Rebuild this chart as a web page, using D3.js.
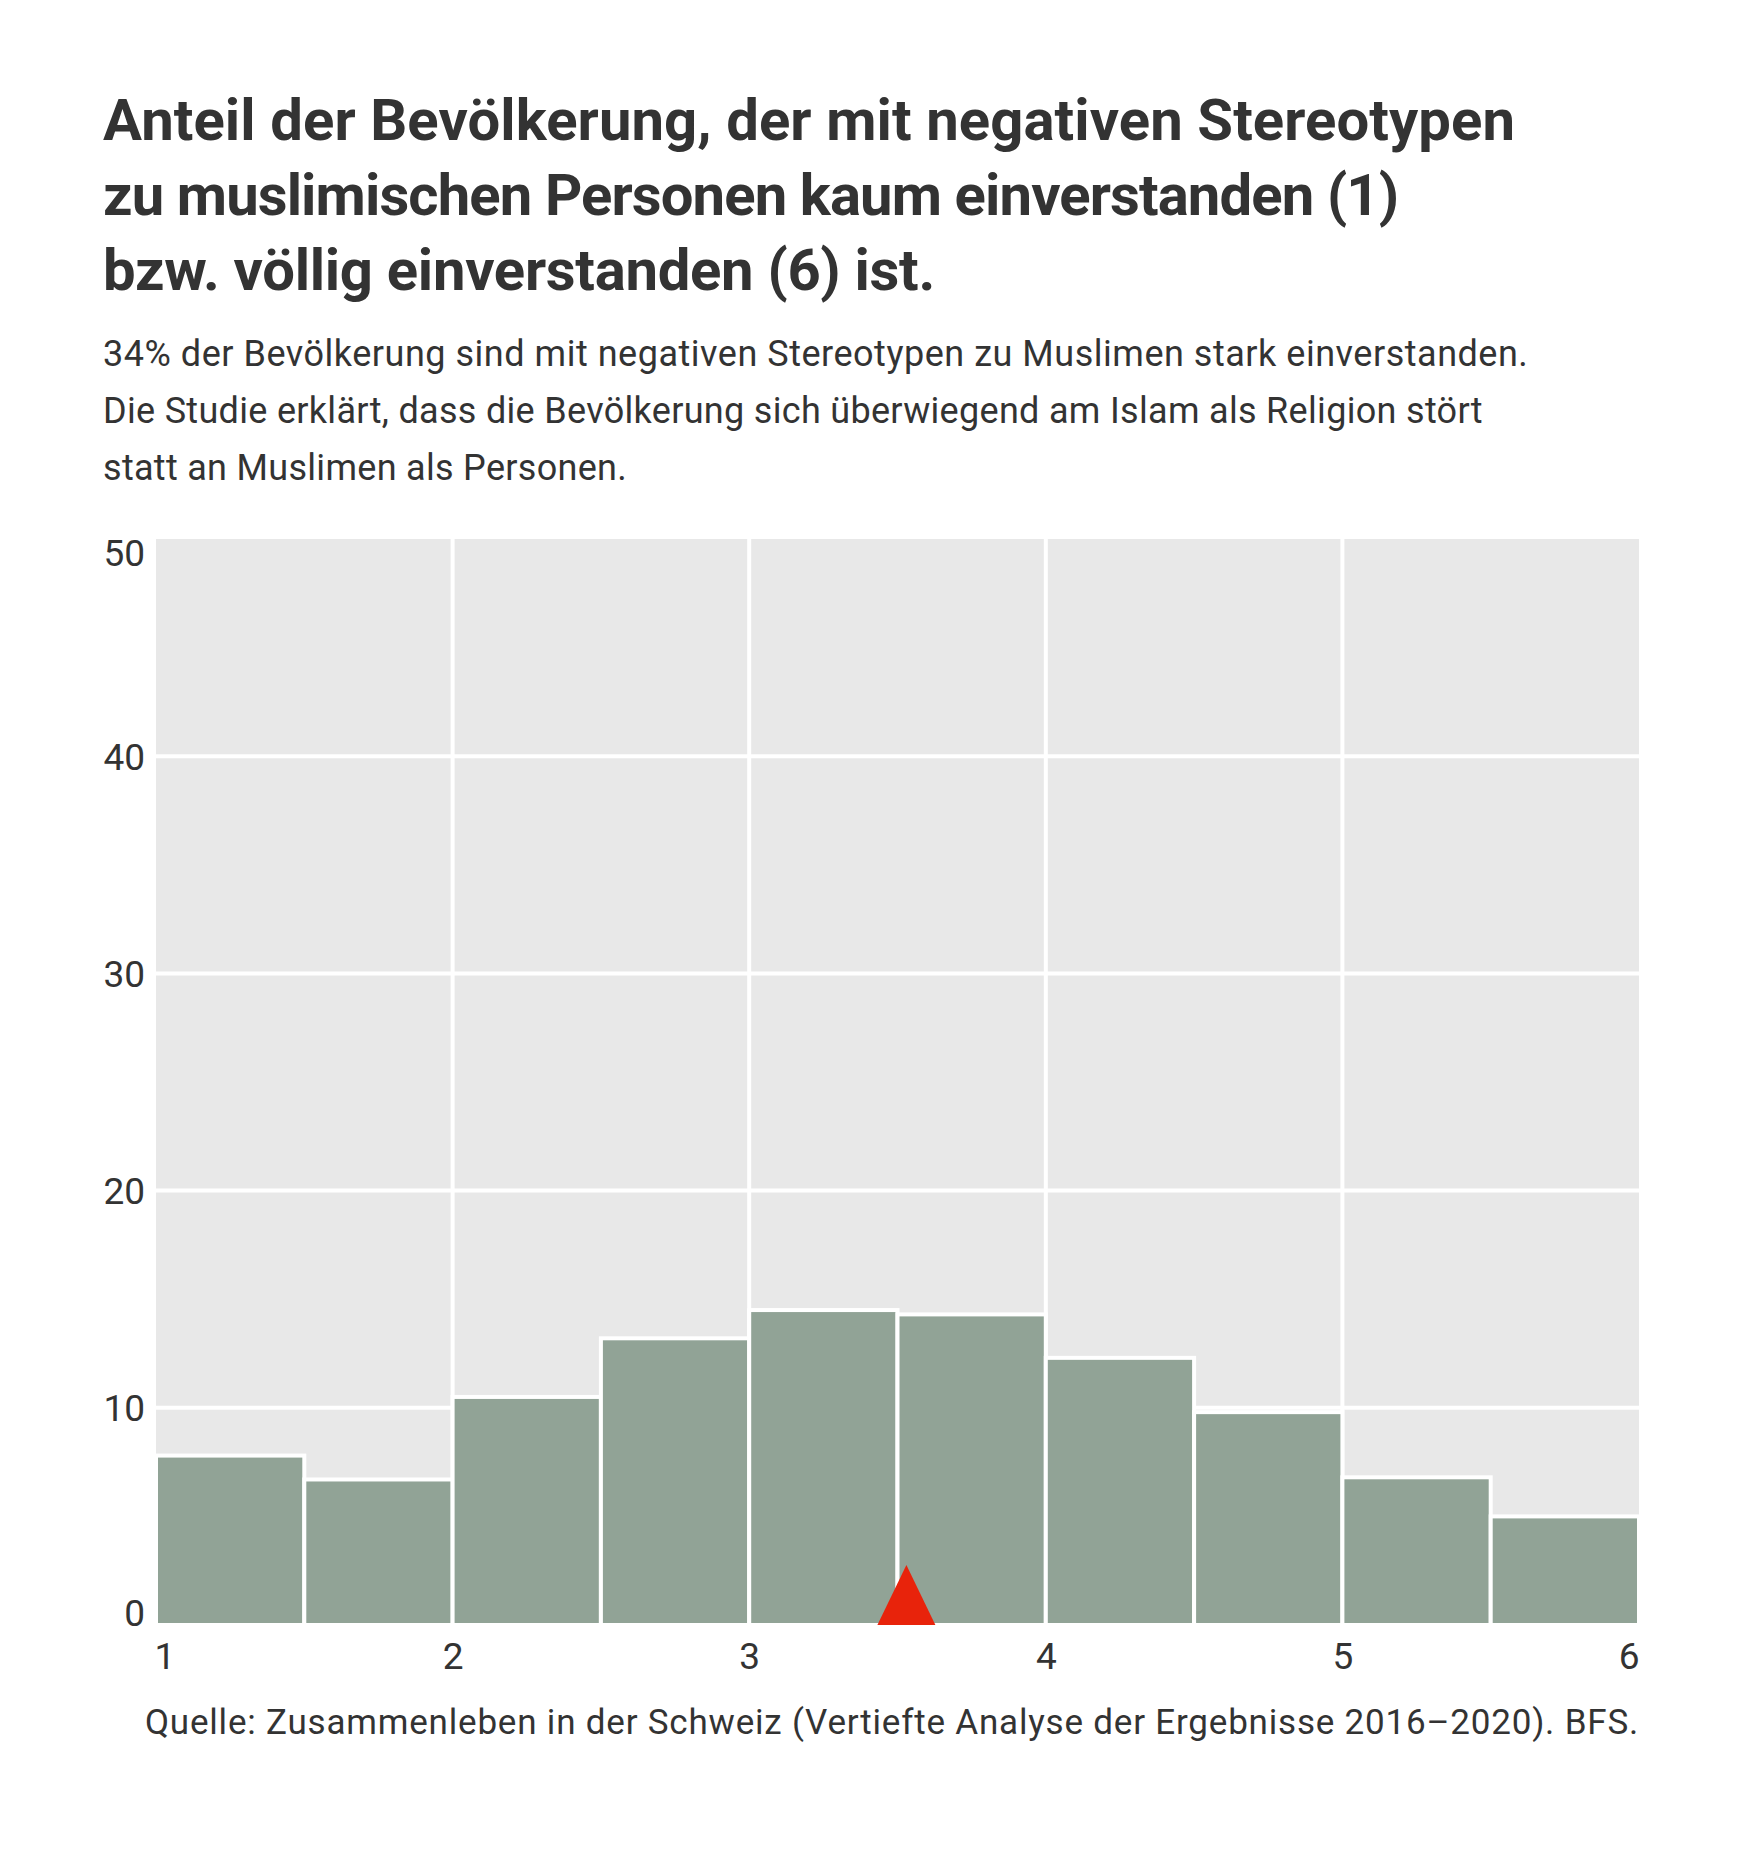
<!DOCTYPE html>
<html>
<head>
<meta charset="utf-8">
<script src="https://cdn.jsdelivr.net/npm/d3@7"></script>
<style>
  body { margin: 0; background: #fff; }
  text { font-family: Roboto, "Liberation Sans", sans-serif; fill: #333; }
</style>
</head>
<body>
<div id="chart"></div>
<script>
// Werte (Anteil in %, Klassenbreite 0.5)
var binStarts = [1, 1.5, 2, 2.5, 3, 3.5, 4, 4.5, 5, 5.5];
var binWidth = 0.5;
var shares = [7.8, 6.7, 10.5, 13.2, 14.5, 14.3, 12.3, 9.8, 6.8, 5.0];
var meanValue = 3.53;
var xTicks = [1, 2, 3, 4, 5, 6];
var yTicks = [0, 10, 20, 30, 40, 50];

var titleLines = [
  "Anteil der Bevölkerung, der mit negativen Stereotypen",
  "zu muslimischen Personen kaum einverstanden (1)",
  "bzw. völlig einverstanden (6) ist."
];
var subtitleLines = [
  "34% der Bevölkerung sind mit negativen Stereotypen zu Muslimen stark einverstanden.",
  "Die Studie erklärt, dass die Bevölkerung sich überwiegend am Islam als Religion stört",
  "statt an Muslimen als Personen."
];
var sourceText = "Quelle: Zusammenleben in der Schweiz (Vertiefte Analyse der Ergebnisse 2016–2020). BFS.";

var width = 1753,
    height = 1867,
    plotLeft = 156,
    plotRight = 1639,
    plotTop = 539,
    plotBottom = 1625;

var svg = d3.select("#chart")
            .append("svg")
              .attr("width", width)
              .attr("height", height);

// passt die Laufweite an die Zeilenbreite der Vorlage an
function fit(sel, target) {
    sel.each(function () {
        var n = this.getNumberOfChars(),
            len = this.getComputedTextLength();
        d3.select(this).attr("letter-spacing", ((target - len) / n).toFixed(2));
    });
}

var titleWidths = [1412, 1295, 832];
svg.append("g")
    .selectAll("text")
    .data(titleLines)
    .join("text")
      .attr("x", 103)
      .attr("y", function (d, i) { return 140 + i * 75; })
      .style("font-size", "58px")
      .style("font-weight", 700)
      .text(function (d) { return d; })
      .each(function (d, i) { fit(d3.select(this), titleWidths[i]); });

var subWidths = [1425, 1380, 524];
svg.append("g")
    .selectAll("text")
    .data(subtitleLines)
    .join("text")
      .attr("x", 103)
      .attr("y", function (d, i) { return 366 + i * 57; })
      .style("font-size", "36px")
      .text(function (d) { return d; })
      .each(function (d, i) { fit(d3.select(this), subWidths[i]); });

var x = d3.scaleLinear()
          .domain([1, 6])
          .range([plotLeft, plotRight]),
    y = d3.scaleLinear()
          .domain([0, 50])
          .range([plotBottom, plotTop]);

// Hintergrund und Raster
svg.append("rect")
    .attr("x", x(1))
    .attr("y", y(50))
    .attr("width", x(6) - x(1))
    .attr("height", y(0) - y(50))
    .style("fill", "#e8e8e8");

svg.append("g")
    .selectAll("line")
    .data(yTicks.slice(1, -1))
    .join("line")
      .attr("x1", x(1))
      .attr("x2", x(6))
      .attr("y1", function (d) { return y(d); })
      .attr("y2", function (d) { return y(d); })
      .style("stroke", "#fff")
      .style("stroke-width", 4);

svg.append("g")
    .selectAll("line")
    .data(xTicks.slice(1, -1))
    .join("line")
      .attr("x1", function (d) { return x(d); })
      .attr("x2", function (d) { return x(d); })
      .attr("y1", y(50))
      .attr("y2", y(0))
      .style("stroke", "#fff")
      .style("stroke-width", 4);

// Balken
svg.append("g")
    .selectAll("rect")
    .data(shares)
    .join("rect")
      .attr("x", function (d, i) { return x(binStarts[i]); })
      .attr("y", function (d) { return y(d); })
      .attr("width", function (d, i) { return x(binStarts[i] + binWidth) - x(binStarts[i]); })
      .attr("height", function (d) { return y(0) - y(d); })
      .style("fill", "#91a396")
      .style("stroke", "#fff")
      .style("stroke-width", 4);

// Mittelwert
var tri = d3.line()
    .x(function (d) { return x(meanValue) + d[0]; })
    .y(function (d) { return y(0) + d[1]; });

svg.append("path")
    .datum([[-29, 0], [0, -60], [29, 0]])
    .attr("d", function (d) { return tri(d) + "Z"; })
    .style("fill", "#e8230b");

// Achsen
var yAxis = d3.axisLeft(y).tickValues(yTicks).tickFormat(d3.format("d")).tickSize(0).tickPadding(11),
    xAxis = d3.axisBottom(x).tickValues(xTicks).tickFormat(d3.format("d")).tickSize(0).tickPadding(18);

var gy = svg.append("g")
    .attr("transform", "translate(" + plotLeft + ",0)")
    .call(yAxis);
gy.select(".domain").remove();
gy.selectAll("text")
    .style("font-size", "37px")
    .attr("fill", null)
    .attr("dy", function (d) {
        if (d == 50) return "0.71em";
        if (d == 0) return "0em";
        return "0.35em";
    });

var gx = svg.append("g")
    .attr("transform", "translate(0," + plotBottom + ")")
    .call(xAxis);
gx.select(".domain").remove();
gx.selectAll("text")
    .style("font-size", "37px")
    .attr("fill", null)
    .attr("x", function (d) { return d == 1 ? -2 : 0; })
    .attr("text-anchor", function (d) {
        if (d == 1) return "start";
        if (d == 6) return "end";
        return "middle";
    });

svg.append("text")
    .attr("x", plotRight)
    .attr("y", 1734)
    .attr("text-anchor", "end")
    .style("font-size", "35px")
    .text(sourceText)
    .call(fit, 1494);
</script>
</body>
</html>
